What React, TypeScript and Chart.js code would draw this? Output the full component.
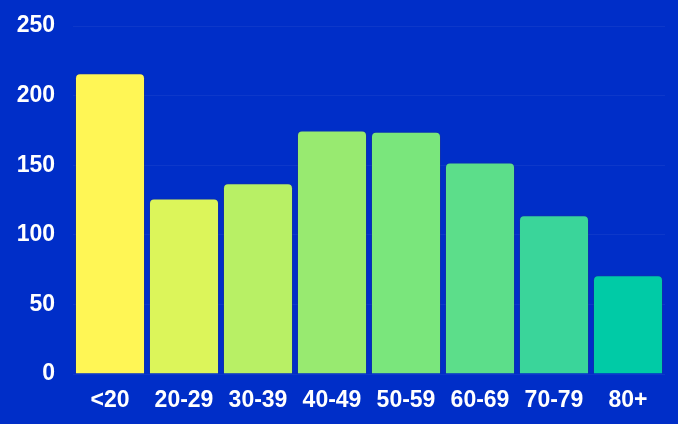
import React, { useEffect, useRef } from "react";
import { Chart, registerables } from "chart.js";

Chart.register(...registerables);

const categories = ["<20", "20-29", "30-39", "40-49", "50-59", "60-69", "70-79", "80+"];
const values = [216, 126, 137, 175, 174, 152, 114, 71];
const barColors = ["#fff655", "#dcf55a", "#b8f065", "#98ea70", "#7ae67c", "#5cde8a", "#3ad59a", "#00cba6"];
const yTicks = [0, 50, 100, 150, 200, 250];

export default function App() {
  const ref = useRef<HTMLCanvasElement | null>(null);

  useEffect(() => {
    if (!ref.current) return;
    const font = { family: "'Liberation Sans', Arial, sans-serif", size: 23, weight: "bold" as const };
    const chart = new Chart(ref.current, {
      type: "bar",
      data: {
        labels: categories,
        datasets: [
          {
            data: values,
            backgroundColor: barColors,
            borderColor: "rgba(60,60,90,0.25)",
            borderWidth: 1,
            borderRadius: 5,
            barPercentage: 0.946,
            categoryPercentage: 1,
          },
        ],
      },
      options: {
        animation: false,
        responsive: false,
        maintainAspectRatio: false,
        layout: { padding: { top: 26, right: 13, bottom: 0, left: 0 } },
        plugins: { legend: { display: false }, tooltip: { enabled: false } },
        scales: {
          x: {
            grid: { display: false, drawTicks: false },
            border: { display: false },
            ticks: { color: "#ffffff", font, padding: 13, maxRotation: 0 },
            afterFit: (s: any) => {
              s.height = 50;
              s.paddingLeft = 0;
              s.paddingRight = 0;
            },
          },
          y: {
            min: 0,
            max: 250,
            afterBuildTicks: (s: any) => {
              s.ticks = yTicks.map((v) => ({ value: v }));
            },
            grid: { color: "rgba(255,255,255,0.05)", drawTicks: false, lineWidth: 1 },
            border: { display: false },
            ticks: { color: "#ffffff", font, padding: 18 },
            afterFit: (s: any) => {
              s.width = 73;
              s.paddingTop = 0;
              s.paddingBottom = 0;
            },
          },
        },
      },
    });
    return () => chart.destroy();
  }, []);

  return (
    <div style={{ position: "fixed", left: 0, top: 0, width: 678, height: 424, background: "#002ec8" }}>
      <canvas ref={ref} width={678} height={424} style={{ display: "block", width: 678, height: 424 }} />
    </div>
  );
}
